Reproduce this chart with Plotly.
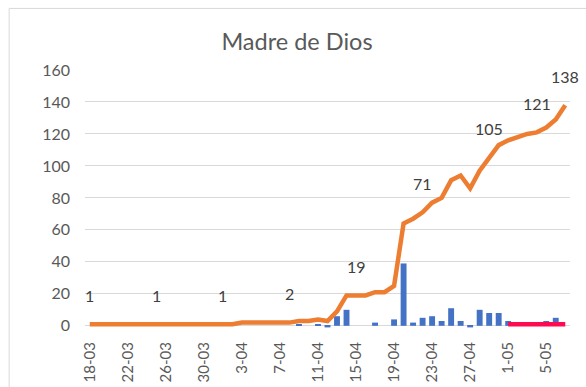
import plotly.graph_objects as go

# Daily dates, 18 March to 7 May
fechas = [
    "18-03", "19-03", "20-03", "21-03", "22-03", "23-03", "24-03", "25-03",
    "26-03", "27-03", "28-03", "29-03", "30-03", "31-03",
    "1-04", "2-04", "3-04", "4-04", "5-04", "6-04", "7-04", "8-04", "9-04",
    "10-04", "11-04", "12-04", "13-04", "14-04", "15-04", "16-04", "17-04",
    "18-04", "19-04", "20-04", "21-04", "22-04", "23-04", "24-04", "25-04",
    "26-04", "27-04", "28-04", "29-04", "30-04",
    "1-05", "2-05", "3-05", "4-05", "5-05", "6-05", "7-05",
]

# Cumulative confirmed cases
acumulados = [
    1, 1, 1, 1, 1, 1, 1, 1, 1, 1, 1, 1, 1, 1,
    1, 1, 2, 2, 2, 2, 2, 2, 3, 3, 4, 3, 9, 19, 19, 19, 21, 21, 25,
    64, 67, 71, 77, 80, 91, 94, 86, 97, 105, 113,
    116, 118, 120, 121, 124, 129, 138,
]

# New cases per day
nuevos = [
    0, 0, 0, 0, 0, 0, 0, 0, 0, 0, 0, 0, 0, 0,
    0, 0, 0, 0, 0, 0, 0, 0, 1, 0, 1, -1, 6, 10, 0, 0, 2, 0, 4,
    39, 2, 5, 6, 3, 11, 3, -1, 10, 8, 8,
    3, 2, 2, 1, 3, 5, 0,
]

# Daily deaths, reported from 1 May
fechas_fallecidos = ["1-05", "2-05", "3-05", "4-05", "5-05", "6-05", "7-05"]
fallecidos = [1, 1, 1, 1, 1, 1, 1]

# Points whose value is written on the chart
etiquetas_idx = [0, 7, 14, 21, 28, 35, 42, 47, 50]

# Axis ticks
ticks_x = fechas[::4]
ticks_y = [0, 20, 40, 60, 80, 100, 120, 140, 160]

GRIS = "#595959"
FUENTE = "Lato, Calibri, sans-serif"

fig = go.Figure()

fig.add_trace(go.Bar(
    x=fechas, y=nuevos,
    marker=dict(color="#4472C4", line=dict(width=0)),
    hoverinfo="x+y", showlegend=False,
))

fig.add_trace(go.Scatter(
    x=fechas, y=acumulados, mode="lines",
    line=dict(color="#ED7D31", width=4.5),
    showlegend=False,
))

fig.add_trace(go.Scatter(
    x=fechas_fallecidos, y=fallecidos, mode="lines",
    line=dict(color="#FF0A50", width=4.5),
    showlegend=False,
))

for i in etiquetas_idx:
    fig.add_annotation(
        x=fechas[i], y=acumulados[i], text=str(acumulados[i]),
        showarrow=False, yshift=29, yanchor="middle",
        font=dict(family=FUENTE, size=16, color="#404040"),
    )

# Chart area border
W, H = 586, 387
L, R, T, B = 85.25, 16.25, 70, 58.3
pw, ph = W - L - R, H - T - B
fig.add_shape(
    type="rect", xref="paper", yref="paper",
    x0=(9.5 - L) / pw, x1=(W + 20 - L) / pw,
    y0=(H - B - (H + 20)) / ph, y1=(H - B - 8.5) / ph,
    line=dict(color="#D9D9D9", width=1), fillcolor="rgba(0,0,0,0)",
    layer="below",
)

fig.update_layout(
    width=W, height=H,
    margin=dict(l=L, r=R, t=T, b=B, autoexpand=False),
    paper_bgcolor="white", plot_bgcolor="white",
    bargap=0.38,
    title=dict(
        text="Madre de Dios", x=297 / W, xanchor="center",
        y=1 - 42 / H, yanchor="middle",
        font=dict(family=FUENTE, size=23.5, color=GRIS),
    ),
    font=dict(family=FUENTE, color=GRIS),
)

fig.update_xaxes(
    type="category", categoryorder="array", categoryarray=fechas,
    tickmode="array", tickvals=ticks_x, ticktext=ticks_x,
    tickangle=-90, ticks="", showgrid=False, zeroline=False,
    showline=False, ticklabelstandoff=9, automargin=False,
    tickfont=dict(family=FUENTE, size=15, color=GRIS),
    range=[-0.5, len(fechas) - 0.5],
)

fig.update_yaxes(
    range=[-2, 160], tickmode="array", tickvals=ticks_y,
    showgrid=True, gridcolor="#D9D9D9", gridwidth=1.3,
    zeroline=False, showline=False, ticks="", ticklabelstandoff=14,
    automargin=False,
    tickfont=dict(family=FUENTE, size=16, color=GRIS),
)

fig.write_html("out.html")
